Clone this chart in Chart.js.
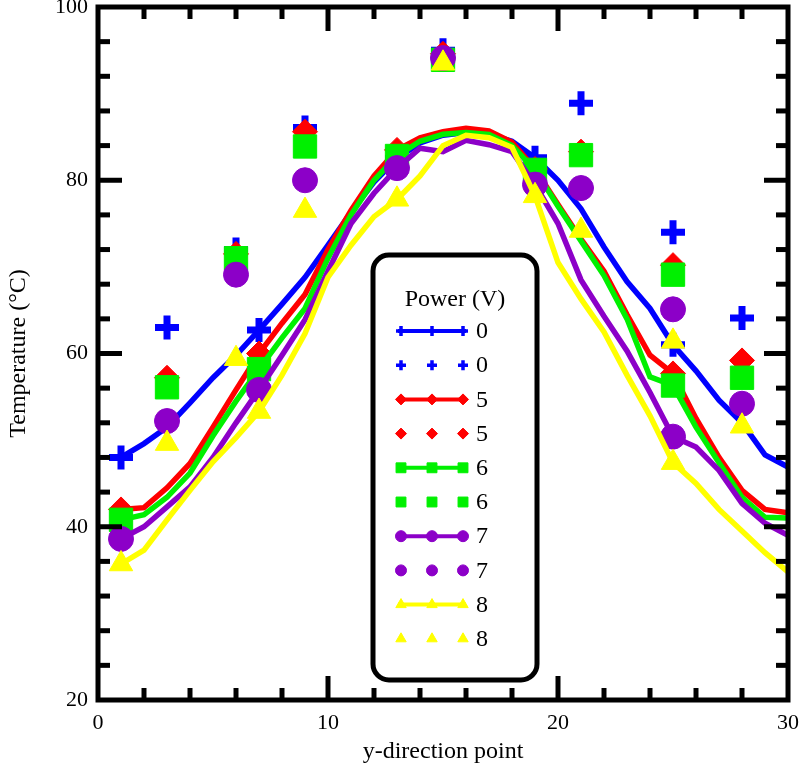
<!DOCTYPE html>
<html>
<head>
<meta charset="utf-8">
<script src="https://cdn.jsdelivr.net/npm/chart.js@4"></script>
<style>
  html, body { margin: 0; padding: 0; background: #fff; }
  #wrap { width: 800px; height: 772px; position: relative; }
</style>
</head>
<body>
<div id="wrap"><canvas id="c"></canvas></div>
<script>
// ---------- data ----------
const seriesLabels = ['0', '5', '6', '7', '8'];
const legendTitle = 'Power (V)';
const xTitle = 'y-direction point';
const yTitle = 'Temperature (°C)';

// simulated profiles (lines) at y-direction points 1..30
const linePoints = [1,2,3,4,5,6,7,8,9,10,11,12,13,14,15,16,17,18,19,20,21,22,23,24,25,26,27,28,29,30];
const line0 = [48.0,49.6,51.5,54.3,57.2,59.8,62.7,65.7,68.8,72.5,76.3,79.8,82.5,84.3,85.2,85.5,85.3,84.5,82.6,80.0,76.7,72.3,68.3,65.2,61.0,58.0,54.6,52.0,48.3,46.9];
const line5 = [42.0,42.2,44.5,47.3,51.5,55.8,60.0,63.5,66.8,72.0,76.5,80.5,83.5,84.9,85.6,86.0,85.7,84.4,81.3,77.2,73.2,69.5,64.5,59.8,57.7,52.5,48.0,44.2,42.0,41.6];
const line6 = [40.8,41.4,43.4,46.2,50.5,54.5,58.2,61.8,65.2,71.0,76.0,80.0,82.8,84.5,85.3,85.5,85.3,84.0,81.2,77.0,73.0,69.0,64.0,57.3,56.3,51.5,47.4,43.4,41.1,41.0];
const line7 = [38.6,40.0,42.3,44.6,48.0,52.0,55.8,59.8,63.9,69.5,75.0,78.5,81.4,83.7,83.3,84.6,84.1,83.3,79.5,75.0,68.5,64.3,60.3,55.5,50.4,49.2,46.5,42.7,40.4,39.0];
const line8 = [35.7,37.3,40.8,44.2,47.5,50.3,53.3,57.5,62.3,68.8,72.5,75.8,77.8,80.5,84.0,85.2,84.9,83.8,78.2,70.5,66.3,62.5,57.5,52.8,47.4,45.0,42.0,39.5,37.0,34.8];
const lineMarkerPoints = [1, 7, 13, 19, 25];

// measured values (markers only)
const expPoints = [3, 6, 9, 15, 21, 25, 28];
const exp0 = [63.0, 72.0, 86.1, 95.0, 88.9, 74.0, 64.1];
const exp5 = [57.2, 71.5, 85.6, 94.6, 83.3, 70.2, 59.2];
const exp6 = [56.1, 71.0, 83.9, 93.9, 82.9, 69.1, 57.2];
const exp7 = [52.2, 69.1, 80.0, 94.1, 79.1, 65.1, 54.2];
const exp8 = [49.6, 59.4, 76.5, 93.5, 74.2, 61.4, 51.6];

const xTicks = [0, 10, 20, 30];
const yTicks = [20, 40, 60, 80, 100];

// ---------- styles ----------
const colors = ['#0000FF', '#FF0000', '#00F000', '#8C00C8', '#FFFF00'];
const styles = ['cross', 'rectRot', 'rect', 'circle', 'triangle'];
const plotRadius = { cross: 12, rectRot: 12.5, rect: 16.5, circle: 12.5, triangle: 13.5 };
const legendRadius = { cross: 5, rectRot: 5.5, rect: 7, circle: 5.5, triangle: 6 };
const serif = '"Liberation Serif", "Times New Roman", serif';

const lineValues = [line0, line5, line6, line7, line8];
const expValues = [exp0, exp5, exp6, exp7, exp8];

const datasets = [];
seriesLabels.forEach((lab, i) => {
  const st = styles[i];
  datasets.push({
    label: lab,
    data: linePoints.map((x, k) => ({ x: x, y: lineValues[i][k] })),
    showLine: true,
    borderColor: colors[i],
    backgroundColor: colors[i],
    borderWidth: 5.5,
    tension: 0,
    fill: false,
    pointStyle: st,
    pointRadius: ctx => lineMarkerPoints.includes(linePoints[ctx.dataIndex]) ? plotRadius[st] : 0,
    pointHoverRadius: ctx => lineMarkerPoints.includes(linePoints[ctx.dataIndex]) ? plotRadius[st] : 0,
    pointBackgroundColor: colors[i],
    pointBorderColor: colors[i],
    pointBorderWidth: st === 'cross' ? 7 : 1,
    order: 20 - i,
    isLine: true
  });
  datasets.push({
    label: lab,
    data: expPoints.map((x, k) => ({ x: x, y: expValues[i][k] })),
    showLine: false,
    borderColor: colors[i],
    backgroundColor: colors[i],
    pointStyle: st,
    pointRadius: plotRadius[st],
    pointHoverRadius: plotRadius[st],
    pointBackgroundColor: colors[i],
    pointBorderColor: colors[i],
    pointBorderWidth: st === 'cross' ? 7 : 1,
    order: 10 - i,
    isLine: false
  });
});

// ---------- plugins ----------
const framePlugin = {
  id: 'frame',
  afterDatasetsDraw(chart) {
    const { ctx, chartArea: a, scales } = chart;
    const xs = scales.x, ys = scales.y;
    ctx.save();
    ctx.strokeStyle = '#000';
    ctx.lineWidth = 5;
    ctx.lineCap = 'butt';
    const seg = (x1, y1, x2, y2) => { ctx.beginPath(); ctx.moveTo(x1, y1); ctx.lineTo(x2, y2); ctx.stroke(); };
    for (let v = xs.min + 2; v < xs.max; v += 2) {
      const px = xs.getPixelForValue(v);
      const len = v % 10 === 0 ? 24 : 12;
      seg(px, a.bottom, px, a.bottom - len);
      seg(px, a.top, px, a.top + len);
    }
    for (let v = ys.min + 4; v < ys.max; v += 4) {
      const py = ys.getPixelForValue(v);
      const len = v % 20 === 0 ? 24 : 12;
      seg(a.left, py, a.left + len, py);
      seg(a.right, py, a.right - len, py);
    }
    ctx.lineJoin = 'miter';
    ctx.strokeRect(a.left, a.top, a.right - a.left, a.bottom - a.top);
    ctx.restore();
  }
};

const legendPlugin = {
  id: 'boxLegend',
  afterDraw(chart) {
    const { ctx } = chart;
    const H = Chart.helpers;
    const bx = 373, by = 255, bw = 164, bh = 425;
    ctx.save();
    ctx.fillStyle = '#fff';
    ctx.strokeStyle = '#000';
    ctx.lineWidth = 5;
    ctx.beginPath();
    ctx.roundRect(bx, by, bw, bh, 16);
    ctx.fill();
    ctx.stroke();

    ctx.fillStyle = '#000';
    ctx.font = '24px ' + serif;
    ctx.textAlign = 'center';
    ctx.textBaseline = 'middle';
    ctx.fillText(legendTitle, 455, 300);

    const x0 = 398, x1 = 466;
    const marks = [401, 432, 463];
    chart.data.datasets.forEach((ds, i) => {
      const yy = 331 + i * 34.2;
      const st = ds.pointStyle;
      if (ds.isLine) {
        ctx.strokeStyle = ds.borderColor;
        ctx.lineWidth = 4;
        ctx.beginPath();
        ctx.moveTo(x0, yy);
        ctx.lineTo(x1, yy);
        ctx.stroke();
      }
      ctx.fillStyle = ds.borderColor;
      ctx.strokeStyle = ds.borderColor;
      ctx.lineWidth = st === 'cross' ? 3.5 : 1;
      marks.forEach(mx => {
        H.drawPoint(ctx, { pointStyle: st, radius: legendRadius[st], rotation: 0, borderWidth: ctx.lineWidth }, mx, yy);
      });
      ctx.fillStyle = '#000';
      ctx.font = '24px ' + serif;
      ctx.textAlign = 'left';
      ctx.textBaseline = 'middle';
      ctx.fillText(ds.label, 476, yy + 1);
    });
    ctx.restore();
  }
};

// keep the plot frame at fixed edges: no extra room reserved for edge tick labels
const noEdgePadding = s => {
  s.paddingTop = 0; s.paddingBottom = 0; s.paddingLeft = 0; s.paddingRight = 0;
};

// ---------- chart ----------
new Chart(document.getElementById('c'), {
  type: 'scatter',
  data: { datasets: datasets },
  options: {
    responsive: true,
    maintainAspectRatio: false,
    animation: false,
    events: [],
    layout: { autoPadding: false, padding: { left: 0, right: 12, top: 7, bottom: 0 } },
    plugins: { legend: { display: false }, tooltip: { enabled: false } },
    scales: {
      x: {
        type: 'linear',
        min: 0, max: 30,
        afterFit: s => { s.height = 72; noEdgePadding(s); },
        afterBuildTicks: s => { s.ticks = xTicks.map(v => ({ value: v })); },
        grid: { display: false, drawTicks: false },
        border: { display: false },
        ticks: { color: '#000', font: { family: serif, size: 22 }, padding: 10, maxRotation: 0 },
        title: { display: true, text: xTitle, color: '#000', font: { family: serif, size: 24 }, padding: { top: 0, bottom: 6 } }
      },
      y: {
        type: 'linear',
        min: 20, max: 100,
        afterFit: s => { s.width = 98; noEdgePadding(s); },
        afterBuildTicks: s => { s.ticks = yTicks.map(v => ({ value: v })); },
        grid: { display: false, drawTicks: false },
        border: { display: false },
        ticks: { color: '#000', font: { family: serif, size: 22 }, padding: 10 },
        title: { display: true, text: yTitle, color: '#000', font: { family: serif, size: 24 }, padding: { top: 4, bottom: 0 } }
      }
    }
  },
  plugins: [framePlugin, legendPlugin]
});
</script>
</body>
</html>
